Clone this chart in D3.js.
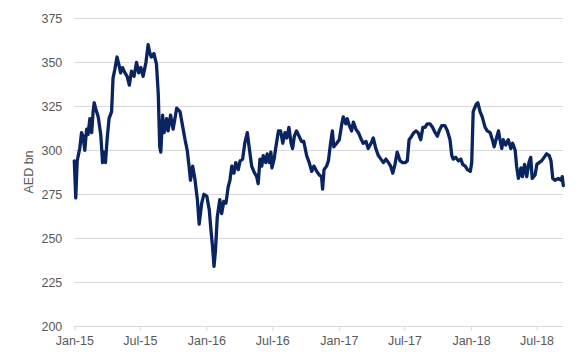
<!DOCTYPE html>
<html>
<head>
<meta charset="utf-8">
<script src="https://cdn.jsdelivr.net/npm/d3@7"></script>
<style>
  html, body { margin: 0; padding: 0; background: #fff; }
  svg { display: block; font-family: "Liberation Sans", Arial, sans-serif; }
</style>
</head>
<body>
<svg id="chart" width="582" height="360"></svg>
<script>
// ---- data ----
const dates = ["2015-01-01","2015-01-05","2015-01-09","2015-01-16","2015-01-21","2015-01-25","2015-01-30","2015-02-04","2015-02-08","2015-02-13","2015-02-18","2015-02-22","2015-02-25","2015-03-02","2015-03-08","2015-03-15","2015-03-18","2015-03-20","2015-03-24","2015-03-28","2015-04-02","2015-04-07","2015-04-14","2015-04-18","2015-04-23","2015-04-29","2015-05-05","2015-05-09","2015-05-14","2015-05-21","2015-05-27","2015-06-02","2015-06-08","2015-06-15","2015-06-22","2015-06-28","2015-07-04","2015-07-10","2015-07-18","2015-07-24","2015-07-29","2015-08-02","2015-08-09","2015-08-16","2015-08-21","2015-08-25","2015-08-28","2015-09-02","2015-09-06","2015-09-13","2015-09-17","2015-09-24","2015-10-01","2015-10-11","2015-10-20","2015-10-27","2015-11-03","2015-11-09","2015-11-14","2015-11-18","2015-11-24","2015-11-30","2015-12-07","2015-12-12","2015-12-19","2015-12-25","2016-01-02","2016-01-09","2016-01-13","2016-01-18","2016-01-22","2016-01-26","2016-01-31","2016-02-07","2016-02-12","2016-02-18","2016-02-24","2016-03-01","2016-03-06","2016-03-11","2016-03-17","2016-03-22","2016-03-29","2016-04-03","2016-04-10","2016-04-16","2016-04-23","2016-04-28","2016-05-05","2016-05-11","2016-05-19","2016-05-23","2016-05-28","2016-06-02","2016-06-06","2016-06-13","2016-06-17","2016-06-23","2016-06-27","2016-06-30","2016-07-06","2016-07-11","2016-07-18","2016-07-24","2016-07-30","2016-08-05","2016-08-10","2016-08-16","2016-08-22","2016-08-26","2016-08-31","2016-09-06","2016-09-13","2016-09-20","2016-09-26","2016-10-04","2016-10-11","2016-10-18","2016-10-24","2016-11-01","2016-11-08","2016-11-14","2016-11-17","2016-11-21","2016-11-28","2016-12-03","2016-12-09","2016-12-14","2016-12-18","2016-12-26","2017-01-02","2017-01-09","2017-01-13","2017-01-20","2017-01-24","2017-01-30","2017-02-05","2017-02-10","2017-02-17","2017-02-24","2017-03-02","2017-03-09","2017-03-17","2017-03-23","2017-03-31","2017-04-06","2017-04-13","2017-04-20","2017-04-27","2017-05-04","2017-05-11","2017-05-18","2017-05-24","2017-05-30","2017-06-05","2017-06-11","2017-06-19","2017-06-26","2017-07-03","2017-07-09","2017-07-14","2017-07-21","2017-07-27","2017-08-02","2017-08-08","2017-08-15","2017-08-21","2017-08-27","2017-09-02","2017-09-10","2017-09-17","2017-09-24","2017-09-30","2017-10-05","2017-10-12","2017-10-21","2017-10-28","2017-11-04","2017-11-09","2017-11-13","2017-11-20","2017-11-27","2017-12-04","2017-12-09","2017-12-16","2017-12-22","2017-12-30","2018-01-03","2018-01-07","2018-01-15","2018-01-20","2018-01-26","2018-02-01","2018-02-09","2018-02-15","2018-02-23","2018-03-01","2018-03-06","2018-03-11","2018-03-18","2018-03-22","2018-03-27","2018-03-31","2018-04-07","2018-04-14","2018-04-21","2018-04-26","2018-05-03","2018-05-07","2018-05-12","2018-05-19","2018-05-23","2018-05-29","2018-06-04","2018-06-10","2018-06-15","2018-06-19","2018-06-27","2018-07-02","2018-07-08","2018-07-15","2018-07-22","2018-07-29","2018-08-05","2018-08-10","2018-08-15","2018-08-21","2018-08-30","2018-09-07","2018-09-10","2018-09-13"];
const values = [294,273,294,301,310,308,300,312,309,318,310,322,327,323,319,309,300,293,299,293,307,318,322,341,346,353,348,344,347,344,342,337,345,342,350,344,347,342,350,360,355,353,355,349,332,302,299,320,310,318,311,320,312,324,322,314,306,300,291,283,291,284,272,258,270,275,274,266,256,245,234,243,262,272,264,271,270,279,283,291,287,293,289,294,295,304,310,302,291,288,285,281,295,291,297,293,298,293,299,290,295,302,311,311,304,310,307,313,304,301,308,311,308,305,305,297,293,288,291,288,286,285,278,289,291,294,304,311,302,304,306,315,319,315,318,314,311,316,312,310,307,304,305,301,304,307,301,297,295,293,295,293,291,287,292,299,294,293,293,294,306,308,310,311,310,306,313,313,315,315,313,310,308,311,314,314,311,306,297,295,296,294,295,292,291,289,288,293,322,326,327,322,319,313,311,310,306,302,306,311,306,301,306,303,306,301,304,300,291,284,290,285,292,285,293,296,284,286,292,293,294,296,298,297,294,284,283,284,283,285,280];
const yTicks = [200,225,250,275,300,325,350,375];
const xTickDates = ["2015-01-01","2015-07-01","2016-01-01","2016-07-01","2017-01-01","2017-07-01","2018-01-01","2018-07-01"];
const xTickLabels = ["Jan-15","Jul-15","Jan-16","Jul-16","Jan-17","Jul-17","Jan-18","Jul-18"];
const xDomain = ["2015-01-01","2018-09-13"];
const yLabel = "AED bn";

// ---- chart ----
const parse = d3.timeParse("%Y-%m-%d");
const data = dates.map((d, i) => ({ date: parse(d), value: values[i] }));

const svg = d3.select("#chart");
const mLeft = 74.3, mRight = 563.3, mTop = 18.3, mBottom = 326.3;

const x = d3.scaleTime().domain(xDomain.map(parse)).range([mLeft, mRight]);
const y = d3.scaleLinear().domain([200, 375]).range([mBottom, mTop]);

const textColor = "#595959";

// gridlines
svg.append("g")
  .selectAll("line")
  .data(yTicks.filter(t => t !== 200))
  .join("line")
  .attr("x1", mLeft).attr("x2", mRight)
  .attr("y1", d => Math.round(y(d)) + 0.5).attr("y2", d => Math.round(y(d)) + 0.5)
  .attr("stroke", "#d9d9d9").attr("stroke-width", 1);

// y axis (labels only)
const yAxis = d3.axisLeft(y).tickValues(yTicks).tickSize(0).tickPadding(12);
const gy = svg.append("g").attr("transform", `translate(${mLeft},0)`).call(yAxis);
gy.select(".domain").remove();
gy.selectAll("text").attr("fill", textColor).style("font-size", "12.5px")
  .style("font-family", '"Liberation Sans", Arial, sans-serif');

// x axis
const xAxis = d3.axisBottom(x)
  .tickValues(xTickDates.map(parse))
  .tickFormat((d, i) => xTickLabels[i])
  .tickSizeInner(4).tickSizeOuter(0).tickPadding(6);
const gx = svg.append("g").attr("transform", `translate(0,${Math.round(mBottom) + 0.5})`).call(xAxis);
gx.select(".domain").attr("stroke", "#d9d9d9").attr("d", `M${mLeft},0H${mRight}`);
gx.selectAll(".tick line").attr("stroke", "#d9d9d9");
gx.selectAll("text").attr("fill", textColor).style("font-size", "12.5px")
  .style("font-family", '"Liberation Sans", Arial, sans-serif');

// y label
svg.append("text")
  .attr("transform", `translate(33,172) rotate(-90)`)
  .attr("text-anchor", "middle")
  .attr("fill", textColor)
  .style("font-size", "12.5px")
  .text(yLabel);

// line
const line = d3.line().x(d => x(d.date)).y(d => y(d.value));
svg.append("path")
  .datum(data)
  .attr("d", line)
  .attr("fill", "none")
  .attr("stroke", "#0a2461")
  .attr("stroke-width", 3.3)
  .attr("stroke-linejoin", "round")
  .attr("stroke-linecap", "round");
</script>
</body>
</html>
